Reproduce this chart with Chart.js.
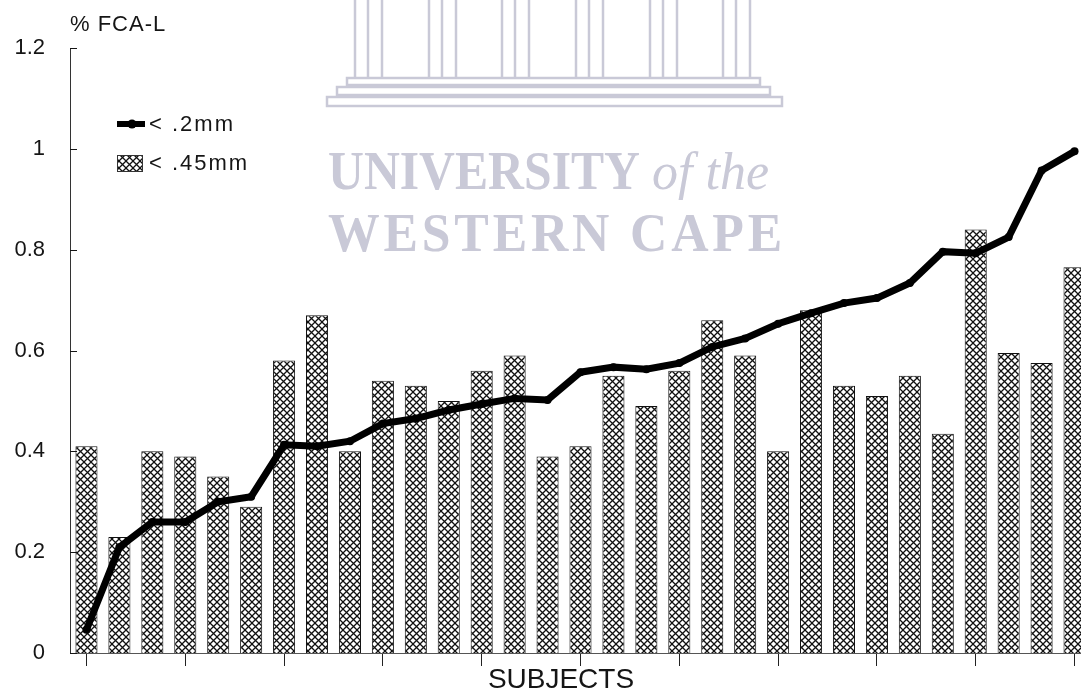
<!DOCTYPE html>
<html>
<head>
<meta charset="utf-8">
<script src="https://cdn.jsdelivr.net/npm/chart.js@4.4.1/dist/chart.umd.min.js"></script>
<style>
  html, body { margin: 0; padding: 0; background: #fff; overflow: hidden; }
  #wrap { position: absolute; left: 0; top: 0; width: 1100px; height: 696px; }
</style>
</head>
<body>
<div id="wrap"><canvas id="chart" width="1100" height="696"></canvas></div>
<script>
// subjects along the x axis (no labels shown in the figure)
const subjects = ['1','2','3','4','5','6','7','8','9','10','11','12','13','14','15','16',
                  '17','18','19','20','21','22','23','24','25','26','27','28','29','30','31'];

// % FCA-L, particles < .45mm (hatched bars)
const coarse = [0.41, 0.23, 0.40, 0.39, 0.35, 0.29, 0.58, 0.67, 0.40, 0.54, 0.53, 0.50, 0.56, 0.59, 0.39, 0.41,
                0.55, 0.49, 0.56, 0.66, 0.59, 0.40, 0.68, 0.53, 0.51, 0.55, 0.435, 0.84, 0.595, 0.575, 0.765];

// % FCA-L, particles < .2mm (line)
const fine = [0.046, 0.21, 0.26, 0.26, 0.30, 0.31, 0.413, 0.41, 0.42, 0.455, 0.465, 0.482, 0.494, 0.505, 0.502, 0.557,
              0.567, 0.563, 0.575, 0.607, 0.624, 0.653, 0.674, 0.694, 0.704, 0.734, 0.796, 0.793, 0.825, 0.957, 0.995];

const yTicks = [0, 0.2, 0.4, 0.6, 0.8, 1, 1.2];

const INK = '#151515';
const WATERMARK = '#c9c9d7';

// cross-hatch fill like the old laser-printer pattern
function makeHatch() {
    const size = 7;
    const c = document.createElement('canvas');
    c.width = size; c.height = size;
    const g = c.getContext('2d');
    g.fillStyle = '#fff';
    g.fillRect(0, 0, size, size);
    g.strokeStyle = '#111';
    g.lineWidth = 1.3;
    g.beginPath();
    g.moveTo(-1, -1); g.lineTo(size + 1, size + 1);
    g.moveTo(size + 1, -1); g.lineTo(-1, size + 1);
    g.stroke();
    return document.getElementById('chart').getContext('2d').createPattern(c, 'repeat');
}
const hatch = makeHatch();

// scanned-thesis watermark behind the plot
const watermark = {
    id: 'watermark',
    beforeDatasetsDraw(chart) {
        const ctx = chart.ctx;
        ctx.save();
        ctx.strokeStyle = WATERMARK;
        ctx.lineWidth = 2.5;
        [355, 429, 502, 576, 650, 723].forEach(x0 => {
            [0, 13, 27].forEach(dx => {
                ctx.beginPath();
                ctx.moveTo(x0 + dx, 0);
                ctx.lineTo(x0 + dx, 77);
                ctx.stroke();
            });
        });
        ctx.strokeRect(347, 78, 413, 7);
        ctx.strokeRect(337, 87, 433, 8);
        ctx.strokeRect(327, 97, 455, 9);

        ctx.fillStyle = WATERMARK;
        ctx.textBaseline = 'alphabetic';
        ctx.textAlign = 'left';
        ctx.font = 'bold 54px "Liberation Serif"';
        ctx.fillText('UNIVERSITY', 328, 189, 312);
        ctx.font = 'italic 52px "Liberation Serif"';
        ctx.fillText('of the', 652, 189, 132);
        ctx.font = 'bold 54px "Liberation Serif"';
        ctx.letterSpacing = '4px';
        ctx.fillText('WESTERN CAPE', 328, 251, 458);
        ctx.restore();
    }
};

// inward y ticks, axis titles and the in-plot legend
const decorations = {
    id: 'decorations',
    afterDraw(chart) {
        const ctx = chart.ctx;
        const y = chart.scales.y;
        const area = chart.chartArea;
        ctx.save();
        ctx.strokeStyle = INK;
        ctx.lineWidth = 1;
        y.ticks.forEach(t => {
            const py = Math.round(y.getPixelForValue(t.value)) + 0.5;
            ctx.beginPath();
            ctx.moveTo(area.left, py);
            ctx.lineTo(area.left + 7, py);
            ctx.stroke();
        });

        ctx.fillStyle = INK;
        ctx.textBaseline = 'middle';
        ctx.textAlign = 'left';
        ctx.font = '22px "Liberation Sans"';
        ctx.letterSpacing = '1px';
        ctx.fillText('% FCA-L', area.left, 25);

        ctx.textAlign = 'center';
        ctx.font = '28px "Liberation Sans"';
        ctx.letterSpacing = '0px';
        ctx.fillText('SUBJECTS', 561, 680);

        // legend
        ctx.textAlign = 'left';
        ctx.font = '22px "Liberation Sans"';
        ctx.letterSpacing = '2px';
        ctx.strokeStyle = '#000';
        ctx.lineWidth = 6;
        ctx.beginPath();
        ctx.moveTo(117, 124);
        ctx.lineTo(145, 124);
        ctx.stroke();
        ctx.fillStyle = '#000';
        ctx.beginPath();
        ctx.arc(132, 124, 4.5, 0, Math.PI * 2);
        ctx.fill();
        ctx.fillStyle = INK;
        ctx.fillText('< .2mm', 149, 125);

        ctx.fillStyle = hatch;
        ctx.fillRect(117, 155, 25, 16);
        ctx.strokeStyle = '#333';
        ctx.lineWidth = 1;
        ctx.strokeRect(117.5, 155.5, 25, 16);
        ctx.fillStyle = INK;
        ctx.fillText('< .45mm', 149, 164);
        ctx.restore();
    }
};

new Chart(document.getElementById('chart'), {
    type: 'bar',
    data: {
        labels: subjects,
        datasets: [
            {
                type: 'line',
                label: '< .2mm',
                data: fine,
                borderColor: '#000',
                borderWidth: 7,
                pointRadius: 4,
                pointBackgroundColor: '#000',
                pointBorderWidth: 0,
                tension: 0,
                order: 0
            },
            {
                type: 'bar',
                label: '< .45mm',
                data: coarse,
                backgroundColor: hatch,
                borderColor: '#111',
                borderWidth: 1,
                categoryPercentage: 1,
                barPercentage: 0.67,
                order: 1
            }
        ]
    },
    options: {
        responsive: false,
        animation: false,
        devicePixelRatio: 1,
        layout: { padding: { left: 0, top: 48, right: 9, bottom: 0 } },
        plugins: {
            legend: { display: false },
            tooltip: { enabled: false },
            title: { display: false }
        },
        scales: {
            x: {
                type: 'category',
                offset: true,
                afterFit: scale => { scale.height = 43; },
                ticks: { display: false, autoSkip: false },
                grid: {
                    display: true,
                    offset: false,
                    drawOnChartArea: false,
                    drawTicks: true,
                    tickLength: 13,
                    lineWidth: 1,
                    color: c => (c.index % 3 === 0 ? '#222' : 'rgba(0,0,0,0)')
                },
                border: { display: true, color: '#555', width: 1 }
            },
            y: {
                min: 0,
                max: 1.2,
                afterFit: scale => { scale.width = 70; },
                afterBuildTicks: scale => { scale.ticks = yTicks.map(v => ({ value: v })); },
                ticks: {
                    padding: 25,
                    color: INK,
                    font: { family: '"Liberation Sans"', size: 22 },
                    callback: v => String(+v.toFixed(1))
                },
                grid: { display: false, drawTicks: false },
                border: { display: true, color: '#333', width: 1 }
            }
        }
    },
    plugins: [watermark, decorations]
});
</script>
</body>
</html>
